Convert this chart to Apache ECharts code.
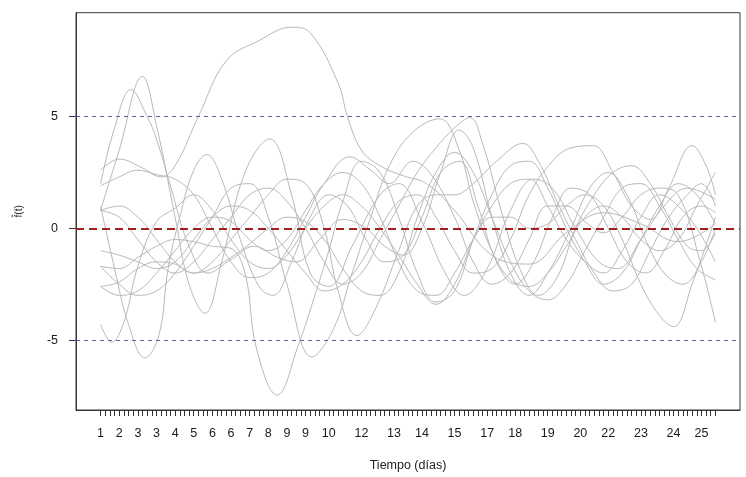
<!DOCTYPE html>
<html>
<head>
<meta charset="utf-8">
<script src="https://cdn.jsdelivr.net/npm/echarts@6/dist/echarts.min.js"></script>
<style>
  html, body { margin: 0; padding: 0; background: #fff; }
  #chart { width: 746px; height: 477px; }
</style>
</head>
<body>
<div id="chart"></div>
<script>
// 133 evaluation points (index 0..132) along the time axis
const nPoints = 133;

// Day labels shown under selected evaluation points
const dayLabels   = ['1','2','3','3','4','5','6','6','7','8','9','9','10','12','13','14','15','17','18','19','20','22','23','24','25'];
const dayLabelPos = [0,4,8,12,16,20,24,28,32,36,40,44,49,56,63,69,76,83,89,96,103,109,116,123,129];

// Reference levels
const yTicks = [-5, 0, 5];
const bandLevels = [-5, 5];
const centerLevel = 0;

// Smoothed curves f̂(t): [evaluation index, value]
const curveA = [[0,2.6],[4,3.1],[9,2.7],[13,2.3],[16,2.8],[21,5.0],[27,7.5],[34,8.4],[41,9.0],[45,8.75],[51,6.5],[53,5.0],[56,3.5],[60,2.8],[65,2.35],[70,2.0],[76,0.8],[84,-1.2],[92,-1.6],[100,-0.2],[108,0.7],[116,0.2],[124,-0.6],[132,0.2]];
const curveB = [[0,0.8],[4,3.5],[9,6.8],[12,4.6],[16,0.5],[19,-2.5],[22.4,-3.8],[26,-1.5],[31,2.5],[36.3,4.0],[41,1.5],[45,-2.0],[49,-2.6],[54,-0.8],[60,1.5],[64,2.0],[69,0.3],[74,-2.0],[78,-3.0],[83,-1.8],[88,0.8],[93,2.2],[97,1.8],[102,0.0],[107,-1.5],[111,-1.8],[116,-0.5],[121,1.0],[126,1.8],[132,1.3]];
const curveC = [[0,2.0],[3,4.5],[6.5,6.2],[10,5.0],[12,4.0],[15,1.9],[19,-0.8],[23,-2.0],[28,-1.4],[33,-0.8],[38,-1.3],[42,-1.5],[47,-0.5],[52,0.4],[57,0.0],[61,-0.8],[65,-1.2],[69,0.0],[73,2.5],[77,4.4],[80,3.6],[84,0.5],[88,-2.0],[92,-3.0],[96,-2.0],[101,0.0],[105,1.8],[109,2.5],[113,1.5],[117,-0.5],[121,-2.0],[125,-2.5],[129,-1.5],[132,0.0]];
const curveD = [[0,1.0],[3,-1.8],[6,-4.3],[9.5,-5.8],[12.5,-4.8],[14.5,-1.8],[17,0.5],[20,2.6],[22.8,3.3],[26,2.2],[30,-0.5],[34,-2.6],[37,-3.0],[41,-1.5],[45,0.5],[49,1.5],[53,1.0],[57,-0.5],[61,-1.5],[65,-1.2],[69,0.5],[73,2.5],[77,3.0],[81,1.0],[85,-1.5],[89,-2.5],[93,-1.5],[97,0.5],[101,1.8],[105,1.5],[109,0.0],[113,-1.5],[117,-2.0],[121,-1.0],[125,0.5],[129,1.0],[132,0.7]];
const curveE = [[0,-4.3],[2.4,-5.1],[5,-4.2],[8,-1.7],[12,0.3],[16,0.9],[20,1.5],[24,0.8],[28,-0.5],[32,-1.5],[36,-1.8],[40,-1.2],[44,0.0],[48,1.0],[52,1.5],[56,1.0],[60,0.0],[64,-1.2],[68,-2.5],[72,-3.4],[76,-2.5],[80,-0.5],[84,1.0],[88,2.0],[92,2.2],[96,1.0],[100,-0.5],[104,-1.5],[108,-2.0],[112,-1.0],[116,0.5],[120,1.5],[124,1.0],[128,0.0],[132,-1.5]];
const curveF = [[0,-1.7],[4,-1.8],[8,-1.3],[12,-0.8],[16,-0.5],[20,-0.6],[24,-0.8],[28,-0.9],[31,-2.0],[33.5,-5.4],[37.9,-7.46],[42.5,-5.2],[46,-3.0],[49,-1.0],[52,1.2],[56,3.0],[60,2.5],[64,0.5],[68,-2.0],[72,-3.3],[76,-2.8],[80,-0.5],[84,1.5],[88,2.8],[92,3.0],[96,1.8],[100,0.0],[104,-1.5],[108,-2.5],[112,-2.0],[116,-0.5],[120,1.0],[124,2.0],[128,1.5],[132,0.2]];
const curveG = [[0,-2.6],[4,-2.4],[8,-1.8],[12,-1.5],[16,-1.6],[20,-2.0],[24,-1.8],[28,-1.3],[32,-0.7],[36,0.0],[40,0.5],[44,0.3],[48,-0.5],[52,-1.8],[56,-2.8],[60,-3.0],[64,-2.0],[68,0.5],[72,2.5],[76,3.4],[80,2.5],[84,0.5],[88,-1.5],[92,-2.8],[96,-3.2],[100,-2.5],[104,-1.0],[108,0.5],[112,1.8],[116,2.0],[120,1.0],[124,-0.5],[128,-1.8],[132,-2.3]];
const curveH = [[0,0.8],[4,0.5],[8,-0.5],[12,-1.5],[16,-2.0],[20,-1.5],[24,-0.5],[28,0.5],[32,1.5],[36,1.8],[40,1.2],[44,0.0],[48,-1.5],[52,-2.5],[56,-2.0],[60,-0.5],[64,1.0],[68,2.5],[72,3.6],[76,4.5],[79.3,4.95],[82,3.8],[86,0.8],[90,-1.8],[94,-3.0],[98,-2.2],[102,0.0],[106,1.5],[110,2.5],[114,2.8],[118,2.0],[122,0.5],[126,-0.8],[129,-1.0],[132,-0.2]];
const curveI = [[0,-1.7],[4,-2.5],[8,-3.0],[12,-2.8],[16,-2.0],[20,-0.8],[24,0.5],[28,1.8],[32,2.0],[36,0.5],[40,-2.5],[45.4,-5.75],[50,-4.5],[54,-2.0],[58,0.5],[62,2.8],[67,4.3],[72.8,4.9],[77,3.5],[80,1.2],[84,-1.0],[88,-2.3],[92,-2.6],[96,-2.0],[100,-0.8],[104,0.5],[108,1.0],[112,0.5],[116,-0.5],[120,-1.0],[124,-0.5],[128,1.0],[132,2.5]];
const curveJ = [[0,0.8],[4,1.0],[8,0.5],[12,-0.5],[16,-1.5],[20,-2.0],[24,-1.5],[28,-0.5],[32,0.5],[36,1.5],[40,2.2],[44,2.0],[48,0.0],[51,-2.8],[55,-4.8],[59,-3.6],[64,-1.0],[68,1.0],[72,1.5],[76,1.5],[80,2.0],[85,3.0],[90.7,3.8],[94,3.0],[98,1.2],[102,-0.5],[106,-2.0],[110,-2.8],[114,-2.5],[118,-1.0],[122,0.5],[126,1.5],[129,2.0],[132,1.0]];
const curveK = [[0,-1.0],[4,-1.2],[8,-1.5],[12,-1.8],[16,-1.5],[20,-0.5],[24,0.5],[28,1.0],[32,0.8],[36,0.0],[40,-1.0],[44,-2.0],[48,-2.8],[52,-2.5],[56,-1.5],[60,0.0],[64,1.2],[68,1.5],[72,0.5],[76,-1.0],[80,-2.0],[84,-1.8],[88,-0.5],[92,1.5],[97,3.0],[101,3.6],[105.7,3.7],[110,2.5],[114,1.0],[118,0.4],[122,1.8],[127,3.7],[130,2.8],[132,1.5]];
const curveL = [[0,-2.6],[4,-3.0],[8,-2.8],[12,-2.0],[16,-1.0],[20,0.0],[24,0.5],[28,0.3],[32,-0.5],[36,-1.0],[40,-0.5],[44,0.8],[48,2.0],[52,2.5],[56,2.0],[60,0.5],[64,-1.5],[68,-2.8],[72,-3.0],[76,-2.0],[80,-0.5],[84,0.5],[88,0.5],[92,0.0],[96,0.2],[100,1.0],[104,1.5],[108,1.0],[112,-0.5],[116,-2.5],[120,-3.9],[123,-4.4],[127,-2.5],[132,0.5]];
const curveM = [[0,1.9],[4,2.3],[8,2.6],[12,2.4],[16,2.2],[20,1.5],[24,0.0],[28,-1.5],[32,-2.2],[36,-2.0],[40,-1.0],[44,0.5],[48,2.0],[53.5,3.2],[58,2.6],[62,2.0],[67,3.0],[71,2.4],[76,0.5],[80,-1.5],[84,-2.5],[88,-2.0],[92,-0.5],[96,1.0],[100,1.0],[104,0.3],[108,-0.2],[112,0.5],[116,1.5],[120,1.8],[124,1.5],[128.6,-1.4],[132,-4.2]];

const curves = [curveA, curveB, curveC, curveD, curveE, curveF, curveG, curveH, curveI, curveJ, curveK, curveL, curveM];

// Plot range with the usual 4% margin around the data
const xLo = 0, xHi = nPoints - 1;
const yLo = -7.47, yHi = 8.99;
const xPad = (xHi - xLo) * 0.04, yPad = (yHi - yLo) * 0.04;

const allTicks = [];
for (let i = 0; i < nPoints; i++) allTicks.push(i);
const labelAt = {};
dayLabelPos.forEach((p, i) => { labelAt[p] = dayLabels[i]; });

const curveSeries = curves.map((pts, ci) => ({
  name: 'curva' + (ci + 1),
  type: 'line',
  data: pts,
  smooth: 0.4,
  showSymbol: false,
  symbol: 'none',
  silent: true,
  lineStyle: { color: '#b9b9b9', width: 1 },
  z: 2
}));

const refSeries = {
  name: 'referencia',
  type: 'line',
  data: [],
  silent: true,
  markLine: {
    silent: true,
    symbol: ['none', 'none'],
    label: { show: false },
    data: [
      ...bandLevels.map(v => ({ yAxis: v, lineStyle: { color: '#5a5ab0', width: 1.1, type: [4, 4] } })),
      { yAxis: centerLevel, lineStyle: { color: '#a31f1f', width: 2.2, type: [8, 5] } }
    ]
  },
  z: 3
};

const chart = echarts.init(document.getElementById('chart'), null, { renderer: 'canvas' });
chart.setOption({
  animation: false,
  backgroundColor: '#ffffff',
  grid: {
    left: 76, right: 6, top: 12.7, bottom: 65.3,
    show: true, borderColor: '#3a3a3a', borderWidth: 1, backgroundColor: 'transparent'
  },
  xAxis: {
    type: 'value',
    min: xLo - xPad, max: xHi + xPad,
    name: 'Tiempo (días)',
    nameLocation: 'middle',
    nameGap: 49,
    nameTextStyle: { fontFamily: 'Liberation Sans', fontSize: 12.5, color: '#222' },
    axisLine: { show: true, onZero: false, lineStyle: { color: '#333', width: 1 } },
    axisTick: { show: true, customValues: allTicks, length: 6, inside: false, lineStyle: { color: '#333', width: 1 } },
    axisLabel: {
      show: true, customValues: dayLabelPos, margin: 17,
      fontFamily: 'Liberation Sans', fontSize: 12.5, color: '#1a1a1a',
      formatter: v => labelAt[Math.round(v)] || ''
    },
    splitLine: { show: false }
  },
  yAxis: {
    type: 'value',
    min: yLo - yPad, max: yHi + yPad,
    name: 'f̂(t)',
    nameLocation: 'middle',
    nameGap: 52,
    nameRotate: 90,
    nameTextStyle: { fontFamily: 'Liberation Sans', fontSize: 10, color: '#222' },
    axisLine: { show: true, onZero: false, lineStyle: { color: '#333', width: 1 } },
    axisTick: { show: true, customValues: yTicks, length: 7, inside: false, lineStyle: { color: '#333' } },
    axisLabel: {
      show: true, customValues: yTicks, margin: 18,
      fontFamily: 'Liberation Sans', fontSize: 12.5, color: '#1a1a1a'
    },
    splitLine: { show: false }
  },
  series: [...curveSeries, refSeries]
});
</script>
</body>
</html>
